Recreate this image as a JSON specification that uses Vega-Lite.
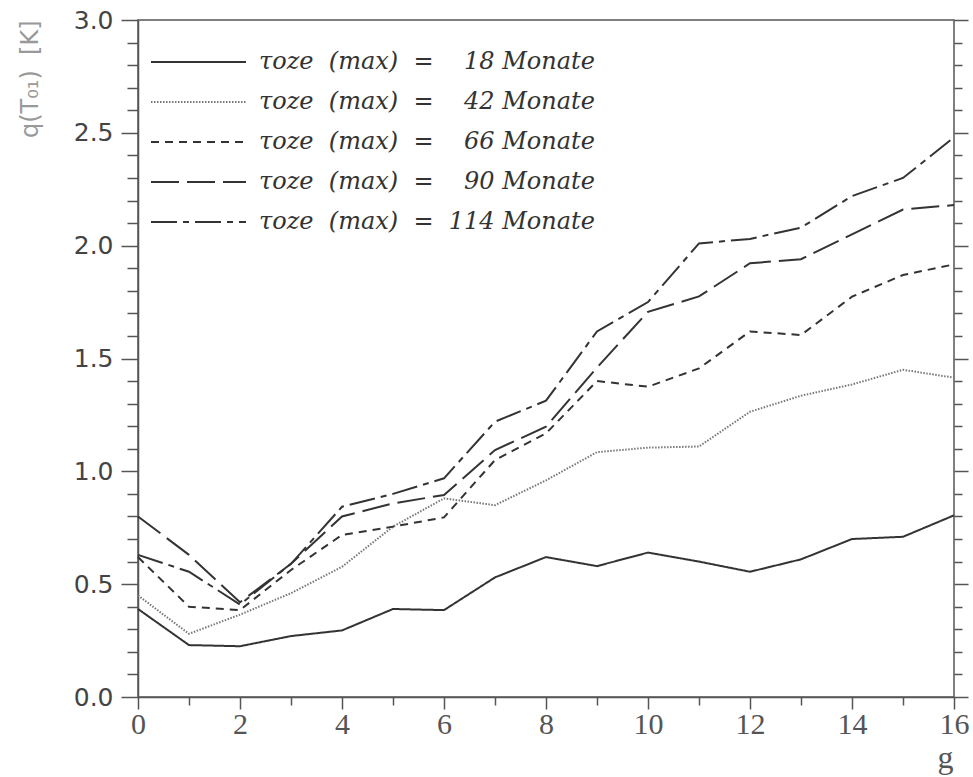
{
  "$schema": "https://vega.github.io/schema/vega-lite/v6.json",
  "width": 816,
  "height": 677,
  "autosize": {"type": "none"},
  "padding": {"left": 138, "top": 20, "right": 19, "bottom": 80},
  "background": "white",
  "config": {
    "view": {"stroke": "#555", "strokeWidth": 1.5},
    "axis": {"domainColor": "#555", "tickColor": "#555", "domainWidth": 1.5, "tickWidth": 1.5, "grid": false}
  },
  "data": {
    "values": [
      {"g": 0, "tau": "18", "q": 0.39}, {"g": 1, "tau": "18", "q": 0.23}, {"g": 2, "tau": "18", "q": 0.225}, {"g": 3, "tau": "18", "q": 0.27}, {"g": 4, "tau": "18", "q": 0.295}, {"g": 5, "tau": "18", "q": 0.39}, {"g": 6, "tau": "18", "q": 0.385}, {"g": 7, "tau": "18", "q": 0.53}, {"g": 8, "tau": "18", "q": 0.62}, {"g": 9, "tau": "18", "q": 0.58}, {"g": 10, "tau": "18", "q": 0.64}, {"g": 11, "tau": "18", "q": 0.6}, {"g": 12, "tau": "18", "q": 0.555}, {"g": 13, "tau": "18", "q": 0.61}, {"g": 14, "tau": "18", "q": 0.7}, {"g": 15, "tau": "18", "q": 0.71}, {"g": 16, "tau": "18", "q": 0.805},
      {"g": 0, "tau": "42", "q": 0.45}, {"g": 1, "tau": "42", "q": 0.28}, {"g": 2, "tau": "42", "q": 0.365}, {"g": 3, "tau": "42", "q": 0.46}, {"g": 4, "tau": "42", "q": 0.577}, {"g": 5, "tau": "42", "q": 0.755}, {"g": 6, "tau": "42", "q": 0.88}, {"g": 7, "tau": "42", "q": 0.85}, {"g": 8, "tau": "42", "q": 0.96}, {"g": 9, "tau": "42", "q": 1.085}, {"g": 10, "tau": "42", "q": 1.105}, {"g": 11, "tau": "42", "q": 1.11}, {"g": 12, "tau": "42", "q": 1.264}, {"g": 13, "tau": "42", "q": 1.335}, {"g": 14, "tau": "42", "q": 1.385}, {"g": 15, "tau": "42", "q": 1.45}, {"g": 16, "tau": "42", "q": 1.415},
      {"g": 0, "tau": "66", "q": 0.62}, {"g": 1, "tau": "66", "q": 0.4}, {"g": 2, "tau": "66", "q": 0.385}, {"g": 3, "tau": "66", "q": 0.563}, {"g": 4, "tau": "66", "q": 0.718}, {"g": 5, "tau": "66", "q": 0.755}, {"g": 6, "tau": "66", "q": 0.796}, {"g": 7, "tau": "66", "q": 1.05}, {"g": 8, "tau": "66", "q": 1.168}, {"g": 9, "tau": "66", "q": 1.4}, {"g": 10, "tau": "66", "q": 1.375}, {"g": 11, "tau": "66", "q": 1.456}, {"g": 12, "tau": "66", "q": 1.62}, {"g": 13, "tau": "66", "q": 1.604}, {"g": 14, "tau": "66", "q": 1.774}, {"g": 15, "tau": "66", "q": 1.87}, {"g": 16, "tau": "66", "q": 1.917},
      {"g": 0, "tau": "90", "q": 0.8}, {"g": 1, "tau": "90", "q": 0.63}, {"g": 2, "tau": "90", "q": 0.42}, {"g": 3, "tau": "90", "q": 0.59}, {"g": 4, "tau": "90", "q": 0.8}, {"g": 5, "tau": "90", "q": 0.858}, {"g": 6, "tau": "90", "q": 0.895}, {"g": 7, "tau": "90", "q": 1.094}, {"g": 8, "tau": "90", "q": 1.198}, {"g": 9, "tau": "90", "q": 1.46}, {"g": 10, "tau": "90", "q": 1.707}, {"g": 11, "tau": "90", "q": 1.775}, {"g": 12, "tau": "90", "q": 1.922}, {"g": 13, "tau": "90", "q": 1.94}, {"g": 14, "tau": "90", "q": 2.05}, {"g": 15, "tau": "90", "q": 2.16}, {"g": 16, "tau": "90", "q": 2.18},
      {"g": 0, "tau": "114", "q": 0.63}, {"g": 1, "tau": "114", "q": 0.555}, {"g": 2, "tau": "114", "q": 0.41}, {"g": 3, "tau": "114", "q": 0.59}, {"g": 4, "tau": "114", "q": 0.843}, {"g": 5, "tau": "114", "q": 0.9}, {"g": 6, "tau": "114", "q": 0.969}, {"g": 7, "tau": "114", "q": 1.22}, {"g": 8, "tau": "114", "q": 1.313}, {"g": 9, "tau": "114", "q": 1.62}, {"g": 10, "tau": "114", "q": 1.75}, {"g": 11, "tau": "114", "q": 2.01}, {"g": 12, "tau": "114", "q": 2.03}, {"g": 13, "tau": "114", "q": 2.08}, {"g": 14, "tau": "114", "q": 2.22}, {"g": 15, "tau": "114", "q": 2.3}, {"g": 16, "tau": "114", "q": 2.48}
    ]
  },
  "layer": [
    {
      "mark": {"type": "line", "strokeWidth": 2, "strokeCap": "butt"},
      "encoding": {
        "x": {
          "field": "g", "type": "quantitative",
          "scale": {"domain": [0, 16], "nice": false, "zero": false},
          "axis": {
            "values": [0, 1, 2, 3, 4, 5, 6, 7, 8, 9, 10, 11, 12, 13, 14, 15, 16],
            "tickSize": {"condition": {"test": "datum.value % 2 === 0", "value": 12}, "value": 8},
            "labelExpr": "datum.value % 2 === 0 ? datum.label : ''",
            "labelFont": "Liberation Serif", "labelFontSize": 30, "labelColor": "#555", "labelPadding": 0,
            "labelFlush": false,
            "title": "g", "titleFont": "Liberation Serif", "titleFontSize": 32, "titleFontWeight": "normal", "titleColor": "#555",
            "titleAnchor": "start", "titleAlign": "center", "titleX": 807, "titleY": 60, "titleBaseline": "middle"
          }
        },
        "y": {
          "field": "q", "type": "quantitative",
          "scale": {"domain": [0, 3], "nice": false},
          "axis": {
            "values": [0, 0.1, 0.2, 0.3, 0.4, 0.5, 0.6, 0.7, 0.8, 0.9, 1, 1.1, 1.2, 1.3, 1.4, 1.5, 1.6, 1.7, 1.8, 1.9, 2, 2.1, 2.2, 2.3, 2.4, 2.5, 2.6, 2.7, 2.8, 2.9, 3],
            "tickSize": {"condition": {"test": "abs(datum.value * 2 - round(datum.value * 2)) < 0.001", "value": 17}, "value": 11},
            "labelExpr": "abs(datum.value * 2 - round(datum.value * 2)) < 0.001 ? format(datum.value, '.1f') : ''",
            "labelFont": "DejaVu Sans", "labelFontSize": 25, "labelColor": "#444", "labelPadding": 8,
            "labelFlush": false,
            "title": "q(T₀₁)\u00a0\u00a0[K]", "titleFont": "DejaVu Sans", "titleFontSize": 24, "titleFontWeight": "normal", "titleColor": "#999",
            "titleAngle": 270, "titleAnchor": "end", "titleAlign": "right", "titleX": -108, "titleY": 0, "titleBaseline": "middle"
          }
        },
        "strokeDash": {
          "field": "tau", "type": "nominal",
          "scale": {"domain": ["18", "42", "66", "90", "114"], "range": [[1, 0], [1.5, 1.5], [8, 6], [28, 8], [26, 6, 6, 6]]},
          "legend": {
            "orient": "none", "legendX": 12, "legendY": 22, "title": null, "padding": 0,
            "symbolType": "stroke", "symbolSize": 9025, "symbolStrokeWidth": 2, "clipHeight": 40, "rowPadding": 0,
            "labelOffset": 12, "labelFont": "DejaVu Serif", "labelFontStyle": "italic", "labelFontSize": 24, "labelColor": "#333",
            "labelLimit": 600,
            "labelExpr": "'τoze\u00a0\u00a0(max)\u00a0\u00a0=\u00a0\u00a0' + (length(datum.label) < 3 ? '\u2007' : '') + datum.label + ' Monate'"
          }
        },
        "color": {
          "field": "tau", "type": "nominal",
          "scale": {"domain": ["18", "42", "66", "90", "114"], "range": ["#333333", "#777777", "#333333", "#333333", "#333333"]},
          "legend": {
            "orient": "none", "legendX": 12, "legendY": 22, "title": null, "padding": 0,
            "symbolType": "stroke", "symbolSize": 9025, "symbolStrokeWidth": 2, "clipHeight": 40, "rowPadding": 0,
            "labelOffset": 12, "labelFont": "DejaVu Serif", "labelFontStyle": "italic", "labelFontSize": 24, "labelColor": "#333",
            "labelLimit": 600,
            "labelExpr": "'τoze\u00a0\u00a0(max)\u00a0\u00a0=\u00a0\u00a0' + (length(datum.label) < 3 ? '\u2007' : '') + datum.label + ' Monate'"
          }
        }
      }
    },
    {
      "mark": {"type": "line", "strokeOpacity": 0},
      "encoding": {
        "x": {"field": "g", "type": "quantitative"},
        "y": {
          "field": "q", "type": "quantitative",
          "axis": {
            "orient": "right",
            "values": [0, 0.1, 0.2, 0.3, 0.4, 0.5, 0.6, 0.7, 0.8, 0.9, 1, 1.1, 1.2, 1.3, 1.4, 1.5, 1.6, 1.7, 1.8, 1.9, 2, 2.1, 2.2, 2.3, 2.4, 2.5, 2.6, 2.7, 2.8, 2.9, 3],
            "tickSize": {"condition": {"test": "abs(datum.value * 2 - round(datum.value * 2)) < 0.001", "value": 14}, "value": 8},
            "labels": false, "domain": false, "title": null
          }
        },
        "detail": {"field": "tau", "type": "nominal"}
      }
    }
  ],
  "resolve": {"axis": {"y": "independent"}}
}
